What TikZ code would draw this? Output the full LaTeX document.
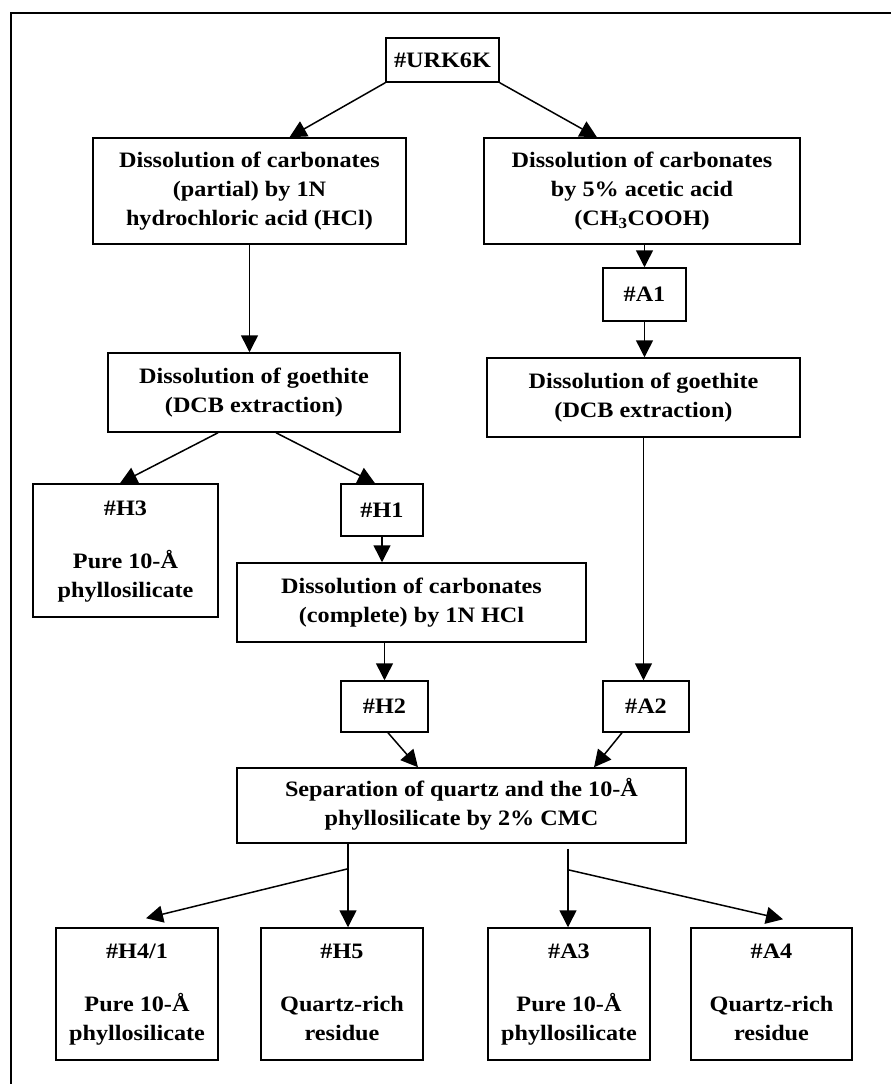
\documentclass[tikz,border=0pt]{standalone}
\usepackage{fontspec}
\setmainfont{Liberation Serif}[FakeStretch=1.1]
\usetikzlibrary{arrows.meta,calc}
\begin{document}
\begin{tikzpicture}[x=1pt,y=-1pt,
  box/.style={draw, line width=1.5pt, inner sep=0pt, align=center,
    font=\bfseries\fontsize{22}{29}\selectfont},
  arr/.style={-{Triangle[length=17pt,width=17pt]}, line width=1.5pt},
  frameline/.style={line width=1.4pt}]
\useasboundingbox (0,0) rectangle (891,1084);
\draw[frameline] (891,13) -- (11,13) -- (11,1084);

\node[box, minimum width=113pt, minimum height=44pt] (urk) at (442.5,60) {\#URK6K};
\node[box, minimum width=313pt, minimum height=106pt] (hcl) at (249.5,191)
  {\strut Dissolution of carbonates\\(partial) by 1N\\hydrochloric acid (HCl)\strut};
\node[box, minimum width=316pt, minimum height=106pt] (ace) at (642,191)
  {\strut Dissolution of carbonates\\by 5\% acetic acid\\(CH\textsubscript{3}COOH)\strut};
\node[box, minimum width=83pt, minimum height=53pt] (a1) at (644.5,294.5) {\#A1};
\node[box, minimum width=292pt, minimum height=79pt] (g1) at (254,392.5)
  {\strut Dissolution of goethite\\(DCB extraction)\strut};
\node[box, minimum width=313pt, minimum height=79pt] (g2) at (643.5,397.5)
  {\strut Dissolution of goethite\\(DCB extraction)\strut};
\node[box, minimum width=185pt, minimum height=133pt] (h3) at (125.5,550.5)
  {\strut\#H3\\[24pt]Pure 10-Å\\phyllosilicate\strut};
\node[box, minimum width=82pt, minimum height=52pt] (h1) at (382,510) {\#H1};
\node[box, minimum width=349pt, minimum height=79pt] (comp) at (411.5,602.5)
  {\strut Dissolution of carbonates\\(complete) by 1N HCl\strut};
\node[box, minimum width=87pt, minimum height=51pt] (h2) at (384.5,706.5) {\#H2};
\node[box, minimum width=86pt, minimum height=51pt] (a2) at (646,706.5) {\#A2};
\node[box, minimum width=449pt, minimum height=75pt] (sep) at (461.5,805.5)
  {\strut Separation of quartz and the 10-Å\\phyllosilicate by 2\% CMC\strut};
\node[box, minimum width=162pt, minimum height=132pt] (h4) at (137,994)
  {\strut\#H4/1\\[24pt]Pure 10-Å\\phyllosilicate\strut};
\node[box, minimum width=162pt, minimum height=132pt] (h5) at (342,994)
  {\strut\#H5\\[24pt]Quartz-rich\\residue\strut};
\node[box, minimum width=162pt, minimum height=132pt] (a3) at (569,994)
  {\strut\#A3\\[24pt]Pure 10-Å\\phyllosilicate\strut};
\node[box, minimum width=161pt, minimum height=132pt] (a4) at (771.5,994)
  {\strut\#A4\\[24pt]Quartz-rich\\residue\strut};

\draw[arr] (urk.south west) -- ($(hcl.north)+(40,0)$);
\draw[arr] (urk.south east) -- ($(ace.north)+(-45,0)$);
\draw[arr] (a1.north |- ace.south) -- (a1.north);
\draw[arr] (hcl.south) -- (hcl.south |- g1.north);
\draw[arr] (a1.south) -- (a1.south |- g2.north);
\draw[arr] ($(g1.south)+(-36,0)$) -- ($(h3.north)+(-5.5,0)$);
\draw[arr] ($(g1.south)+(22,0)$) -- ($(h1.north)+(-7,0)$);
\draw[arr] (h1.south) -- (h1.south |- comp.north);
\draw[arr] (g2.south) -- (g2.south |- a2.north);
\draw[arr] (comp.south -| h2.north) -- (h2.north);
\draw[arr] ($(h2.south)+(3.5,0)$) -- ($(sep.north)+(-43.5,0)$);
\draw[arr] ($(a2.south)+(-24,0)$) -- ($(sep.north)+(132.5,0)$);
\draw[arr] ($(sep.south)+(-113.5,0)$) -- ($(h5.north)+(6,0)$);
\coordinate (bl) at ($(sep.south)+(-113.5,25)$);
\draw[arr] (bl) -- ($(h4.north)+(9,-9)$);
\draw[arr] ($(sep.south)+(106.5,5)$) -- ($(a3.north)+(-1,0)$);
\coordinate (br) at ($(sep.south)+(106.5,26)$);
\draw[arr] (br) -- ($(a4.north)+(11.5,-8)$);
\end{tikzpicture}
\end{document}
